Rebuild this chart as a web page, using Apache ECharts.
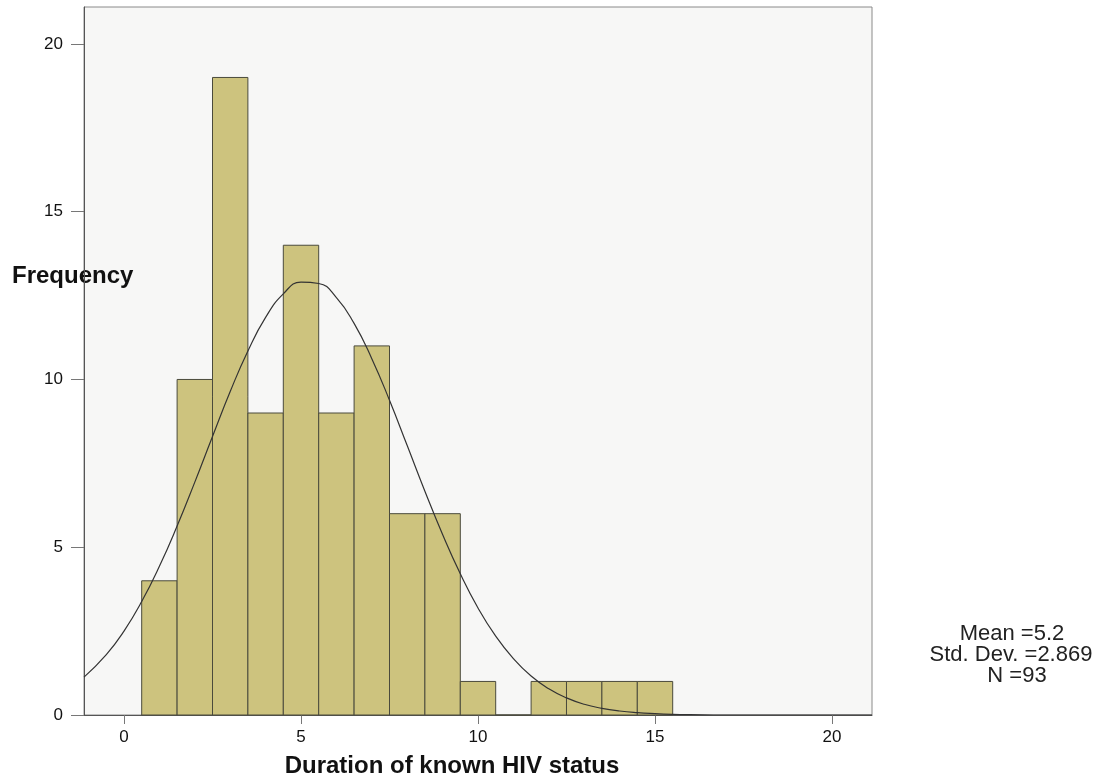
<!DOCTYPE html>
<html>
<head>
<meta charset="utf-8">
<script src="https://cdn.jsdelivr.net/npm/echarts@6/dist/echarts.min.js"></script>
<style>
html,body{margin:0;padding:0;background:#ffffff;}
#chart{width:1094px;height:779px;}
</style>
</head>
<body>
<div id="chart"></div>
<script>
// Histogram bins (centre of each 1-year bin) and frequencies
const binCenters = [1, 2, 3, 4, 5, 6, 7, 8, 9, 10, 11, 12, 13, 14, 15];
const frequencies = [4, 10, 19, 9, 14, 9, 11, 6, 6, 1, 0, 1, 1, 1, 1];
const binWidth = 1;

// Normal curve
const curveX = [-1.13, -0.5, 0, 0.5, 1, 1.5, 2, 2.5, 3, 3.5, 4, 4.5, 5, 5.5, 6, 6.5, 7, 7.5, 8, 8.5, 9, 9.5, 10, 10.5, 11, 11.5, 12, 12.5, 13, 13.5, 14, 14.5, 15, 15.5, 16, 17, 18, 19, 20, 21.13];
const curveY = [1.13, 1.80, 2.50, 3.38, 4.43, 5.63, 6.94, 8.30, 9.64, 10.85, 11.85, 12.55, 12.90, 12.86, 12.44, 11.67, 10.62, 9.38, 8.03, 6.67, 5.38, 4.21, 3.19, 2.35, 1.68, 1.16, 0.78, 0.51, 0.32, 0.20, 0.12, 0.07, 0.04, 0.02, 0.01, 0, 0, 0, 0, 0];

// Tick labels
const xTicks = [0, 5, 10, 15, 20];
const yTicks = [0, 5, 10, 15, 20];

// Summary statistics
const statLines = ['Mean =5.2', 'Std. Dev. =2.869', 'N =93'];

const chart = echarts.init(document.getElementById('chart'), null, {renderer: 'canvas'});

const barData = binCenters.map((c, i) => [c - binWidth / 2, c + binWidth / 2, frequencies[i]]);
const lineData = curveX.map((x, i) => [x, curveY[i]]);

const FONT = '"Liberation Sans", Arial, sans-serif';

const option = {
  backgroundColor: '#ffffff',
  animation: false,
  grid: {
    left: 84, right: 222, top: 7, bottom: 64,
    show: true, backgroundColor: '#f7f7f6', borderColor: '#8a8a8a', borderWidth: 1
  },
  xAxis: {
    type: 'value', min: -1.13, max: 21.13,
    axisLine: {show: true, onZero: false, lineStyle: {color: '#555', width: 1}},
    axisTick: {show: true, customValues: xTicks, length: 9, lineStyle: {color: '#777'}},
    axisLabel: {customValues: xTicks, color: '#111', fontSize: 17, fontFamily: FONT, margin: 14},
    splitLine: {show: false}
  },
  yAxis: {
    type: 'value', min: 0, max: 21.1,
    axisLine: {show: true, onZero: false, lineStyle: {color: '#555', width: 1}},
    axisTick: {show: true, customValues: yTicks, length: 13, lineStyle: {color: '#777'}},
    axisLabel: {customValues: yTicks, color: '#111', fontSize: 17, fontFamily: FONT, margin: 21},
    splitLine: {show: false}
  },
  series: [
    {
      type: 'custom',
      data: barData,
      encode: {x: [0, 1], y: 2},
      renderItem: function (params, api) {
        const p0 = api.coord([api.value(0), api.value(2)]);
        const p1 = api.coord([api.value(1), 0]);
        return {
          type: 'rect',
          shape: {x: p0[0], y: p0[1], width: p1[0] - p0[0], height: p1[1] - p0[1]},
          style: {fill: '#cdc37e', stroke: '#4a4a3c', lineWidth: 1}
        };
      },
      z: 2
    },
    {
      type: 'line',
      data: lineData,
      smooth: true,
      showSymbol: false,
      lineStyle: {color: '#333333', width: 1.2},
      z: 3
    }
  ],
  graphic: [
    {type: 'text', left: 12, top: 264, style: {text: 'Frequency', font: 'bold 24px ' + FONT, fill: '#111'}},
    {type: 'text', x: 452, y: 766, style: {text: 'Duration of known HIV status', font: 'bold 24px ' + FONT, fill: '#111', textAlign: 'center', textVerticalAlign: 'middle'}},
    {type: 'text', x: 1012, y: 634, style: {text: statLines[0], font: '22px ' + FONT, fill: '#222', textAlign: 'center', textVerticalAlign: 'middle'}},
    {type: 'text', x: 1011, y: 655, style: {text: statLines[1], font: '22px ' + FONT, fill: '#222', textAlign: 'center', textVerticalAlign: 'middle'}},
    {type: 'text', x: 1017, y: 676, style: {text: statLines[2], font: '22px ' + FONT, fill: '#222', textAlign: 'center', textVerticalAlign: 'middle'}}
  ]
};
chart.setOption(option);
</script>
</body>
</html>
